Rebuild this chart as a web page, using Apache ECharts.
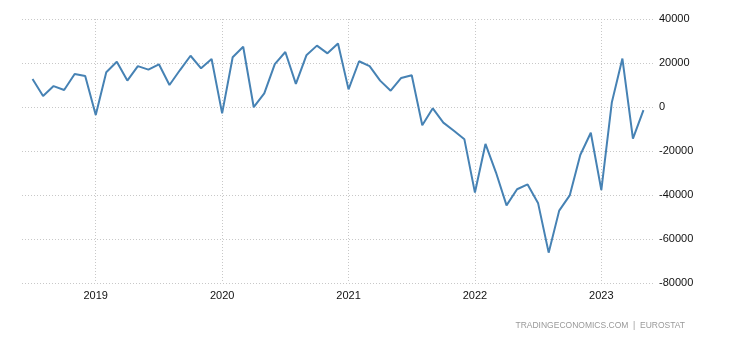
<!DOCTYPE html>
<html>
<head>
<meta charset="utf-8">
<script src="https://cdn.jsdelivr.net/npm/echarts@6/dist/echarts.min.js"></script>
<style>
  html, body { margin: 0; padding: 0; background: #fff; }
  #chart { width: 730px; height: 340px; }
</style>
</head>
<body>
<div id="chart"></div>
<script>
// months Jun 2018 .. Jun 2023 (first and last are empty edge slots)
var months = [];
for (var y = 2018; y <= 2023; y++) {
    for (var m = 1; m <= 12; m++) {
        if ((y === 2018 && m < 6) || (y === 2023 && m > 6)) continue;
        months.push(y + '-' + (m < 10 ? '0' + m : m));
    }
}

var yearTicks = ['2019', '2020', '2021', '2022', '2023'];

var balance = [
    null,
    12700, 5000, 9500, 7700, 15000, 14100,
    -3600, 15800, 20600, 12000, 18600, 17000, 19400, 10000, 16800, 23300, 17600, 21800,
    -2900, 22600, 27400, -100, 6200, 19500, 25000, 10500, 23500, 27900, 24400, 28900,
    8000, 20800, 18600, 12000, 7400, 13200, 14400, -8300, -600, -7100, -10800, -14700,
    -38900, -16800, -29800, -44700, -37400, -35200, -43800, -66200, -47100, -40200, -21800, -11700,
    -37800, 2200, 22000, -14400, -1400,
    null
];

function isYearStart(i) {
    return months[i].slice(5) === '01' && yearTicks.indexOf(months[i].slice(0, 4)) >= 0;
}

var chart = echarts.init(document.getElementById('chart'));
chart.setOption({
    animation: false,
    grid: { left: 22, right: 76, top: 19, bottom: 57 },
    xAxis: {
        type: 'category',
        data: months,
        boundaryGap: false,
        axisLine: { show: false },
        axisTick: { show: false },
        axisLabel: {
            interval: function (i) { return isYearStart(i); },
            formatter: function (v) { return v.slice(0, 4); },
            color: '#111',
            fontSize: 11,
            fontFamily: 'Liberation Sans, Arial, sans-serif',
            margin: 7
        },
        splitLine: {
            show: true,
            interval: function (i) { return isYearStart(i); },
            lineStyle: { color: '#c8c8c8', type: [1, 2], width: 1 }
        }
    },
    yAxis: {
        type: 'value',
        position: 'right',
        min: -80000,
        max: 40000,
        interval: 20000,
        axisLine: { show: false },
        axisTick: { show: false },
        axisLabel: {
            formatter: function (v) { return String(v); },
            color: '#111',
            fontSize: 11,
            fontFamily: 'Liberation Sans, Arial, sans-serif',
            margin: 5
        },
        splitLine: {
            lineStyle: { color: '#c8c8c8', type: [1, 2], width: 1 }
        }
    },
    series: [{
        type: 'line',
        data: balance,
        symbol: 'none',
        lineStyle: { color: '#4682b4', width: 2 }
    }],
    graphic: [{
        type: 'text',
        right: 45,
        top: 321,
        style: {
            text: 'TRADINGECONOMICS.COM  |  EUROSTAT',
            fill: '#999',
            fontSize: 8.5,
            fontFamily: 'Liberation Sans, Arial, sans-serif'
        }
    }]
});
</script>
</body>
</html>
